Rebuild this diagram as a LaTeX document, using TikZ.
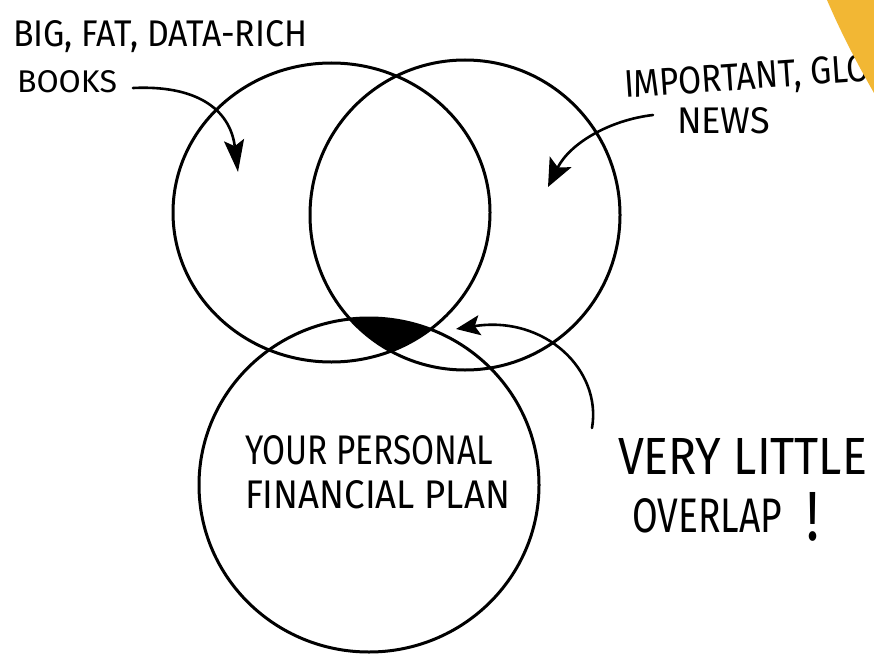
\documentclass[tikz,border=0pt]{standalone}
\usepackage{graphicx}
\usepackage{fontspec}
\newfontfamily\handfont{Fira Sans}
\usetikzlibrary{arrows.meta}
\definecolor{marker}{RGB}{242,183,52}
\newcommand\handtext[3]{\resizebox{#1}{#2}{\handfont #3}}
\begin{document}
\begin{tikzpicture}[x=1pt,y=-1pt,
  ring/.style={line width=3pt, line join=round},
  pointer/.style={line width=2.6pt, line cap=round},
  handlabel/.style={inner sep=0pt, outer sep=0pt, anchor=base west}]
\useasboundingbox (0,0) rectangle (874,655);
\fill[white] (0,0) rectangle (874,655);

% the three sets
\path (331.5,212.5) coordinate (leftC);
\path (465,215) coordinate (rightC);
\path (369,485) coordinate (bottomC);

% overlap of the three circles
\begin{scope}
  \clip (leftC) ellipse [x radius=158.5pt, y radius=149.5pt];
  \clip (rightC) ellipse [x radius=155pt, y radius=155pt];
  \fill (bottomC) ellipse [x radius=170pt, y radius=167pt];
\end{scope}

% circles
\draw[ring] (leftC) ellipse [x radius=158.5pt, y radius=149.5pt];
\draw[ring] (rightC) ellipse [x radius=155pt, y radius=155pt];
\draw[ring] (bottomC) ellipse [x radius=170pt, y radius=167pt];

% labels
\node[handlabel] (bigfat) at (13,47) {\handtext{294pt}{26pt}{BIG, FAT, DATA-RICH}};
\node[handlabel] (books) at (17,93) {\handtext{100pt}{22pt}{BOOKS}};
\node[handlabel, rotate=4] (important) at (625,98) {\handtext{246pt}{27pt}{IMPORTANT, GLO}};
\node[handlabel] (news) at (677,134) {\handtext{93pt}{26pt}{NEWS}};
\node[handlabel] (your) at (245,464) {\handtext{248pt}{29pt}{YOUR PERSONAL}};
\node[handlabel] (financial) at (245,508) {\handtext{265pt}{28pt}{FINANCIAL PLAN}};
\node[handlabel] (very) at (618,474) {\handtext{249pt}{36pt}{VERY LITTLE}};
\node[handlabel] (overlap) at (632,532) {\handtext{150pt}{34pt}{OVERLAP}};
\node[handlabel] (bang) at (806,540) {\handtext{13pt}{48pt}{!}};

% arrows
\coordinate (booksTail) at (133,88);
\coordinate (booksTip) at (238,172);
\draw[pointer, -{Stealth[length=32pt,width=20pt,inset=6pt]}] (booksTail) .. controls (195,85) and (230,108) .. (booksTip);
\coordinate (newsTail) at (653,115);
\coordinate (newsTip) at (548,187);
\draw[pointer, -{Stealth[length=28pt,width=24pt,inset=6pt]}] (newsTail) .. controls (610,120) and (570,143) .. (newsTip);
\coordinate (overlapTail) at (592,428);
\coordinate (overlapTip) at (456,329);
\draw[pointer, -{Stealth[length=24pt,width=20pt,inset=5pt]}] (overlapTail) .. controls (602,370) and (545,315) .. (overlapTip);

% yellow corner
\fill[marker] (827,0) .. controls (842,35) and (858,65) .. (874,93) -- (874,0) -- cycle;
\end{tikzpicture}
\end{document}
